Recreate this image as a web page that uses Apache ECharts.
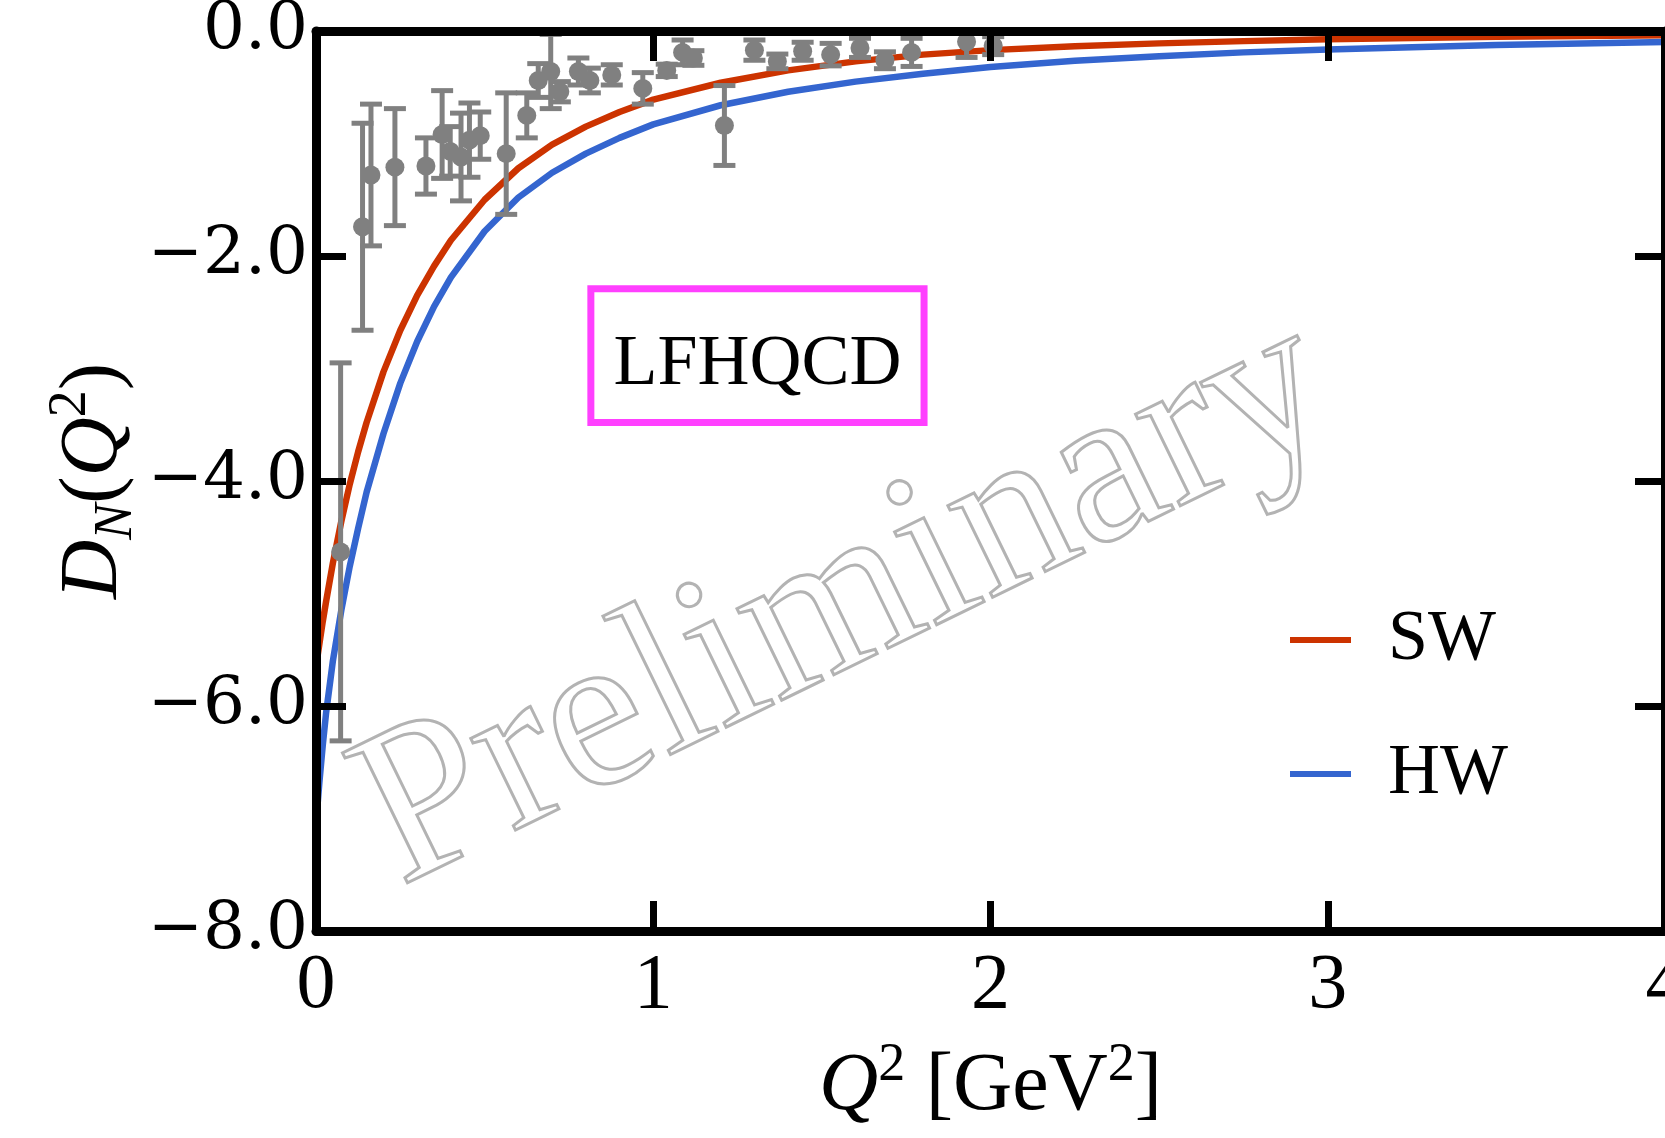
<!DOCTYPE html>
<html><head><meta charset="utf-8">
<script src="https://cdn.jsdelivr.net/npm/echarts@6/dist/echarts.min.js"></script>
<style>html,body{margin:0;padding:0;background:#fff}#c{width:1665px;height:1138px}</style>
</head><body><div id="c"></div>
<script>
// ---- curves ----
const curveQ2 = [0,0.01,0.02,0.03,0.05,0.075,0.1,0.125,0.15,0.2,0.25,0.3,0.35,0.4,0.5,0.6,0.7,0.8,0.9,1.0,1.2,1.4,1.6,1.8,2.0,2.25,2.5,2.75,3.0,3.5,4.0];
const swD = [-5.65,-5.45,-5.25,-5.07,-4.73,-4.36,-4.03,-3.74,-3.48,-3.03,-2.66,-2.35,-2.09,-1.86,-1.50,-1.22,-1.01,-0.85,-0.72,-0.61,-0.46,-0.35,-0.27,-0.21,-0.17,-0.135,-0.11,-0.09,-0.073,-0.052,-0.038];
const hwD = [-7.05,-6.68,-6.35,-6.06,-5.60,-5.15,-4.76,-4.42,-4.10,-3.58,-3.13,-2.76,-2.45,-2.19,-1.78,-1.48,-1.26,-1.09,-0.95,-0.83,-0.66,-0.54,-0.45,-0.38,-0.32,-0.265,-0.225,-0.19,-0.165,-0.125,-0.097];

// ---- data points with errors ----
const dataQ2 = [0.073,0.138,0.163,0.234,0.326,0.374,0.398,0.430,0.455,0.487,0.564,0.625,0.659,0.696,0.723,0.778,0.812,0.877,0.969,1.040,1.087,1.119,1.211,1.300,1.368,1.443,1.526,1.613,1.687,1.766,1.929,2.008];
const dataD  = [-4.63,-1.74,-1.28,-1.21,-1.20,-0.92,-1.07,-1.12,-0.97,-0.93,-1.09,-0.75,-0.44,-0.36,-0.54,-0.36,-0.44,-0.39,-0.51,-0.35,-0.19,-0.24,-0.84,-0.17,-0.27,-0.18,-0.21,-0.15,-0.26,-0.19,-0.095,-0.13];
const dataErr= [1.68,0.92,0.63,0.52,0.25,0.39,0.22,0.39,0.33,0.21,0.54,0.20,0.15,0.33,0.09,0.12,0.11,0.09,0.14,0.055,0.11,0.065,0.355,0.09,0.065,0.08,0.10,0.085,0.075,0.125,0.14,0.08];

// ---- annotation ----
const boxLabel = 'LFHQCD';
const boxCorners = [[0.815,-2.29],[1.803,-3.48]];
const watermark = 'Preliminary';

const SERIF = '"Liberation Serif", "Times New Roman", serif';
const GRAY = '#808080';

const chart = echarts.init(document.getElementById('c'), null, {renderer:'canvas'});

const fmtY = v => (v < 0 ? '\u2212' : '') + Math.abs(v).toFixed(1);

const axisCommon = {
  type:'value',
  axisLine:{show:true, onZero:false, lineStyle:{color:'#000', width:9}},
  axisTick:{show:true, inside:true, length:30, lineStyle:{color:'#000', width:7}},
  splitLine:{show:false},
  z:5
};

const option = {
  animation:false,
  backgroundColor:'#fff',
  grid:{left:316, top:31, right:0, bottom:207, containLabel:false, outerBoundsMode:'none'},
  xAxis:[
    Object.assign({}, axisCommon, {
      position:'bottom', min:0, max:4, interval:1,
      axisLabel:{show:true, showMinLabel:true, showMaxLabel:true, margin:17, fontFamily:SERIF, fontSize:78, color:'#000', lineHeight:78},
      name:'{i|Q}{sup|2}{n| [GeV}{sup|2}{n|]}',
      nameLocation:'middle', nameGap:108, nameMoveOverlap:false,
      nameTextStyle:{color:'#000', rich:{
        i:{fontFamily:SERIF, fontStyle:'italic', fontSize:82, lineHeight:96, color:'#000'},
        n:{fontFamily:SERIF, fontSize:82, lineHeight:96, color:'#000'},
        sup:{fontFamily:SERIF, fontSize:54, lineHeight:54, verticalAlign:'top', color:'#000'}
      }}
    }),
    Object.assign({}, axisCommon, {
      position:'top', min:0, max:4, interval:1, axisLabel:{show:false}
    })
  ],
  yAxis:[
    Object.assign({}, axisCommon, {
      position:'left', min:-8, max:0, interval:2,
      axisLabel:{show:true, showMinLabel:true, showMaxLabel:true, margin:8, formatter:fmtY, fontFamily:'"DejaVu Serif", serif', fontSize:66, color:'#000'},
      name:'{i|D}{sub|N}{n|(}{i|Q}{sup|2}{n|)}',
      nameLocation:'middle', nameGap:172, nameRotate:90, nameMoveOverlap:false,
      nameTextStyle:{color:'#000', rich:{
        i:{fontFamily:SERIF, fontStyle:'italic', fontSize:82, lineHeight:100, color:'#000'},
        n:{fontFamily:SERIF, fontSize:82, lineHeight:100, color:'#000'},
        sup:{fontFamily:SERIF, fontSize:54, lineHeight:54, verticalAlign:'top', color:'#000'},
        sub:{fontFamily:SERIF, fontStyle:'italic', fontSize:54, lineHeight:54, verticalAlign:'bottom', color:'#000'}
      }}
    }),
    Object.assign({}, axisCommon, {
      position:'right', min:-8, max:0, interval:2, axisLabel:{show:false}
    })
  ],
  legend:{
    data:['SW','HW'], orient:'vertical', left:1285, top:599,
    itemWidth:61, itemHeight:6, itemGap:62, icon:'rect', selectedMode:false,
    textStyle:{fontFamily:SERIF, fontSize:72, color:'#000', lineHeight:72, padding:[0,0,0,32]}
  },
  graphic:[{
    type:'text', x:846, y:604, rotation:26*Math.PI/180, silent:true, z:0,
    style:{text:watermark, font:'normal 222px "Liberation Serif"',
      fill:'rgba(255,255,255,0)', stroke:'#b3b3b3', lineWidth:3,
      textAlign:'center', textVerticalAlign:'middle', align:'center', verticalAlign:'middle'}
  }],
  series:[
    {
      name:'SW', type:'line', showSymbol:false, smooth:false,
      data:curveQ2.map((q,i)=>[q, swD[i]]),
      lineStyle:{color:'#cc3300', width:6.5}, itemStyle:{color:'#cc3300'}, z:3,
      markArea:{silent:true,
        itemStyle:{color:'rgba(0,0,0,0)', borderColor:'#ff40ff', borderWidth:7},
        label:{show:true, position:'inside', offset:[0,10], formatter:boxLabel, fontFamily:SERIF, fontSize:72, color:'#000'},
        data:[[{coord:boxCorners[0]},{coord:boxCorners[1]}]]
      }
    },
    {
      name:'HW', type:'line', showSymbol:false, smooth:false,
      data:curveQ2.map((q,i)=>[q, hwD[i]]),
      lineStyle:{color:'#3465cf', width:6.5}, itemStyle:{color:'#3465cf'}, z:3
    },
    {
      name:'errors', type:'custom', z:4, clip:true,
      data:dataQ2.map((q,i)=>[q, dataD[i]-dataErr[i], dataD[i]+dataErr[i]]),
      encode:{x:0, y:[1,2]},
      renderItem:function(params, api){
        const x = api.value(0);
        const pLo = api.coord([x, api.value(1)]);
        const pHi = api.coord([x, api.value(2)]);
        const hw = 11;
        const st = {stroke:GRAY, lineWidth:5};
        return {type:'group', children:[
          {type:'line', shape:{x1:pLo[0], y1:pLo[1], x2:pHi[0], y2:pHi[1]}, style:st},
          {type:'line', shape:{x1:pLo[0]-hw, y1:pLo[1], x2:pLo[0]+hw, y2:pLo[1]}, style:st},
          {type:'line', shape:{x1:pHi[0]-hw, y1:pHi[1], x2:pHi[0]+hw, y2:pHi[1]}, style:st}
        ]};
      }
    },
    {
      name:'data', type:'scatter', z:4, symbol:'circle', symbolSize:19,
      data:dataQ2.map((q,i)=>[q, dataD[i]]),
      itemStyle:{color:GRAY, opacity:1}
    }
  ]
};
chart.setOption(option);
</script>
</body></html>
